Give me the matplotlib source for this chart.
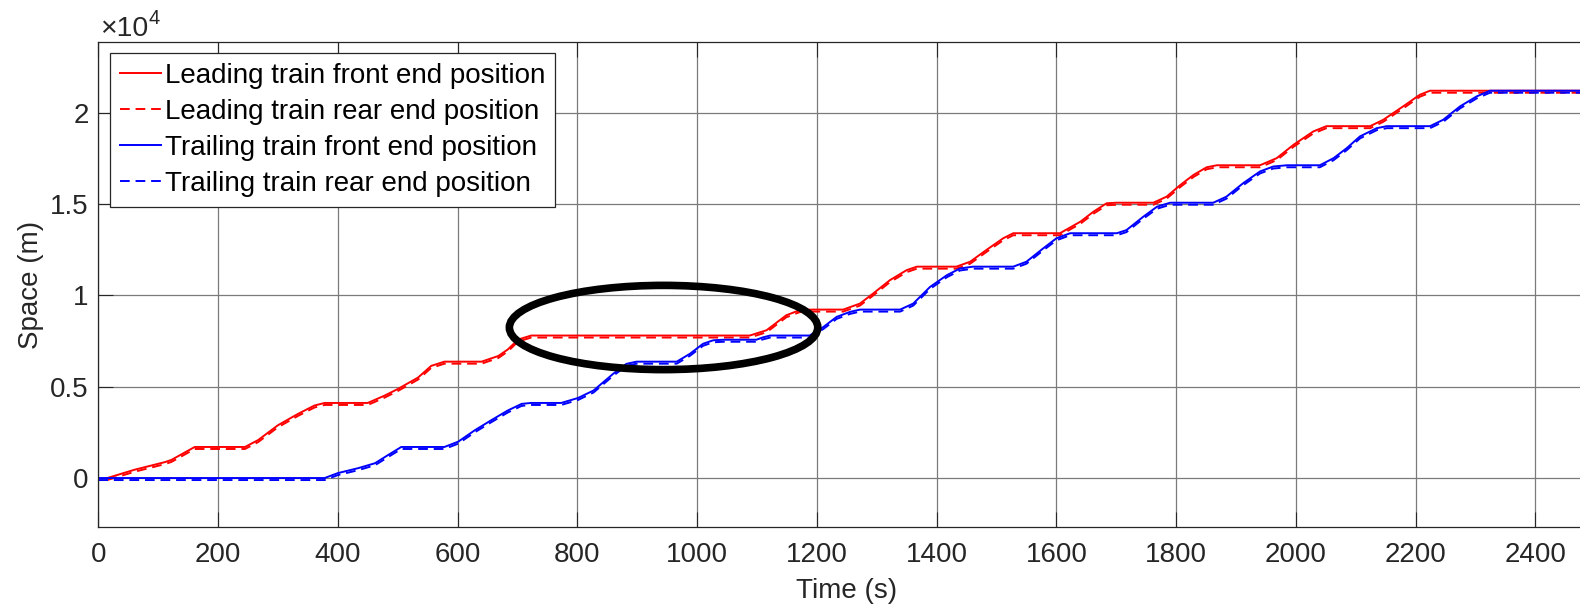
import numpy as np
import matplotlib.pyplot as plt
from matplotlib.patches import Ellipse

plt.rcParams['font.family'] = ['Liberation Sans', 'DejaVu Sans']

# leading train, front end (time s, position m)
t_lead = [15, 60, 111, 122, 161, 245, 267, 300, 334, 361,
          378, 450, 478, 500, 534, 556, 578, 640, 668, 684,
          701, 723, 1088, 1116, 1149, 1172, 1194, 1244, 1272, 1294,
          1322, 1350, 1367, 1433, 1456, 1483, 1511, 1528, 1606, 1640,
          1662, 1684, 1701, 1762, 1784, 1807, 1829, 1851, 1868, 1940,
          1968, 1996, 2029, 2051, 2124, 2146, 2179, 2207, 2224, 2500]
lead_front = [0, 450, 870, 990, 1700, 1700, 2080, 2890, 3520, 3970,
              4110, 4110, 4510, 4870, 5500, 6140, 6370, 6370, 6680, 7040,
              7580, 7800, 7800, 8090, 8910, 9200, 9220, 9220, 9550, 10100,
              10830, 11380, 11570, 11570, 11840, 12480, 13120, 13400, 13400, 14030,
              14580, 15040, 15070, 15070, 15400, 16040, 16590, 17010, 17120, 17120,
              17510, 18240, 18970, 19260, 19260, 19610, 20340, 20980, 21200, 21200]
lead_rear = [-110, 340, 760, 880, 1590, 1590, 1970, 2780, 3410, 3860,
             4000, 4000, 4400, 4760, 5390, 6030, 6260, 6260, 6570, 6930,
             7470, 7690, 7690, 7980, 8800, 9090, 9110, 9110, 9440, 9990,
             10720, 11270, 11460, 11460, 11730, 12370, 13010, 13290, 13290, 13920,
             14470, 14930, 14960, 14960, 15290, 15930, 16480, 16900, 17010, 17010,
             17400, 18130, 18860, 19150, 19150, 19500, 20230, 20870, 21090, 21090]

# trailing train
t_trail = [0, 378, 400, 434, 462, 484, 506, 578, 601, 629,
           656, 684, 707, 723, 773, 801, 827, 860, 882, 899,
           966, 988, 1010, 1027, 1044, 1099, 1110, 1122, 1188, 1211,
           1233, 1255, 1272, 1339, 1361, 1389, 1417, 1439, 1461, 1528,
           1550, 1578, 1600, 1623, 1701, 1717, 1745, 1768, 1790, 1862,
           1884, 1912, 1940, 1962, 1985, 2040, 2063, 2085, 2107, 2135,
           2152, 2224, 2246, 2274, 2302, 2324, 2500]
trail_front = [0, 0, 270, 540, 810, 1260, 1700, 1700, 1990, 2620,
               3160, 3700, 4060, 4110, 4110, 4380, 4790, 5710, 6250, 6370,
               6370, 6800, 7350, 7540, 7570, 7570, 7700, 7800, 7800, 8270,
               8820, 9090, 9220, 9220, 9550, 10460, 11100, 11470, 11570, 11570,
               11840, 12570, 13120, 13400, 13400, 13570, 14300, 14850, 15070, 15070,
               15400, 16140, 16780, 17050, 17120, 17120, 17510, 18060, 18700, 19150,
               19260, 19260, 19610, 20340, 20890, 21200, 21200]
trail_rear = [-110, -110, 160, 430, 700, 1150, 1590, 1590, 1880, 2510,
              3050, 3590, 3950, 4000, 4000, 4270, 4680, 5600, 6140, 6260,
              6260, 6690, 7240, 7430, 7460, 7460, 7590, 7690, 7690, 8160,
              8710, 8980, 9110, 9110, 9440, 10350, 10990, 11360, 11460, 11460,
              11730, 12460, 13010, 13290, 13290, 13460, 14190, 14740, 14960, 14960,
              15290, 16030, 16670, 16940, 17010, 17010, 17400, 17950, 18590, 19040,
              19150, 19150, 19500, 20230, 20780, 21090, 21090]

x_ticks = list(range(0, 2401, 200))
y_ticks = [0, 5000, 10000, 15000, 20000]
y_tick_labels = ['0', '0.5', '1', '1.5', '2']

W, H = 1580, 610
fig = plt.figure(figsize=(W / 100, H / 100), dpi=100)
ax = fig.add_axes([98.3 / W, 83 / H, 1497 / W, 484.7 / H])

lw = 1.4
dash = (5, 3)
ax.plot(t_lead, lead_front, color='#ff0000', lw=lw, label='Leading train front end position')
ax.plot(t_lead, lead_rear, color='#ff0000', lw=lw, dashes=dash, label='Leading train rear end position')
ax.plot(t_trail, trail_front, color='#0000ff', lw=lw, label='Trailing train front end position')
ax.plot(t_trail, trail_rear, color='#0000ff', lw=lw, dashes=dash, label='Trailing train rear end position')

ax.add_patch(Ellipse((944, 8240), 515, 4610, fill=False, ec='black', lw=5.5, zorder=5))

ax.set_xlim(0, 2500)
ax.set_ylim(-2680, 23850)
ax.set_xticks(x_ticks)
ax.set_yticks(y_ticks)
ax.set_yticklabels(y_tick_labels)
ax.grid(True, color='#7a7a7a', lw=0.9)
ax.set_axisbelow(True)
for s in ax.spines.values():
    s.set_color('#262626')
    s.set_linewidth(0.9)
ax.tick_params(direction='in', length=10.5, width=0.8, top=True, right=True,
               colors='#262626', labelsize=20)
ax.tick_params(axis='x', pad=11)
ax.tick_params(axis='y', pad=7)

ax.set_xlabel('Time (s)', fontsize=20, color='#262626', labelpad=7)
ax.set_ylabel('Space (m)', fontsize=20, color='#262626', labelpad=4)

fig.text(100.5 / W, 1 - 36 / H, '\u00d710', fontsize=20.5, color='#262626', va='baseline')
fig.text(148.5 / W, 1 - 24 / H, '4', fontsize=14.5, color='#262626', va='baseline')

leg = ax.legend(loc='upper left', bbox_to_anchor=(110 / W, 1 - 53.3 / H),
                bbox_transform=fig.transFigure, borderaxespad=0, fontsize=20,
                fancybox=False, framealpha=1, edgecolor='#262626',
                handlelength=1.5, handletextpad=0.12, labelspacing=0.36,
                borderpad=0.35)
leg.get_frame().set_linewidth(0.9)
leg.set_zorder(10)

fig.savefig('out.png', dpi=100)
